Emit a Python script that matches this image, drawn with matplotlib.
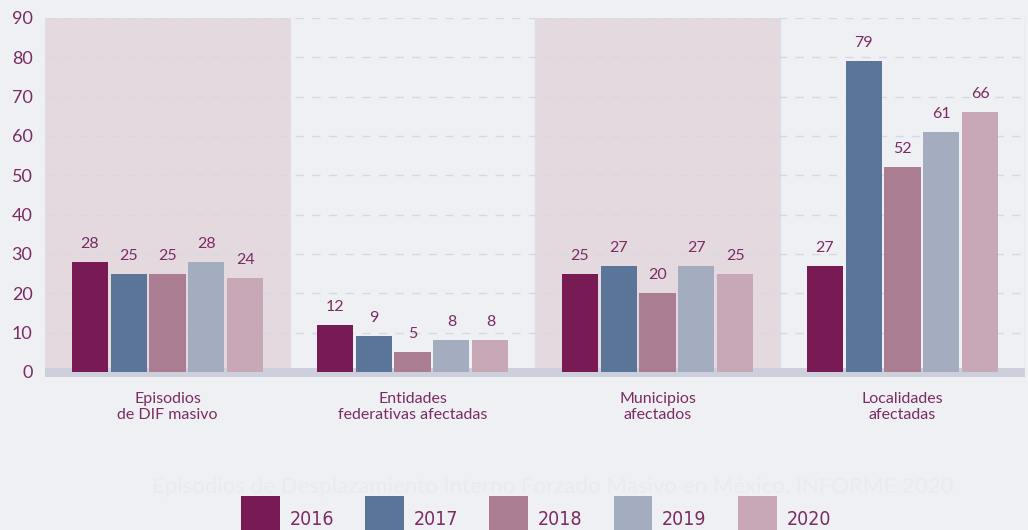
import matplotlib
matplotlib.use("Agg")
import matplotlib.pyplot as plt
from matplotlib.patches import Patch
from matplotlib.font_manager import FontProperties
import numpy as np

categories = ["Episodios\nde DIF masivo", "Entidades\nfederativas afectadas",
              "Municipios\nafectados", "Localidades\nafectadas"]
years = ["2016", "2017", "2018", "2019", "2020"]
v2016 = [28, 12, 25, 27]
v2017 = [25, 9, 27, 79]
v2018 = [25, 5, 20, 52]
v2019 = [28, 8, 27, 61]
v2020 = [24, 8, 25, 66]
series = [v2016, v2017, v2018, v2019, v2020]
colors = ["#781a54", "#5b7599", "#ab7d93", "#a4acc0", "#c8a7b6"]
yticks = [0, 10, 20, 30, 40, 50, 60, 70, 80, 90]

BG = "#eff0f4"
TXT = "#7b2c62"
plt.rcParams['font.family'] = ['Lato', 'DejaVu Sans']

fig = plt.figure(figsize=(10.28, 5.30), dpi=100, facecolor=BG)
ax = fig.add_axes([45/1028, 153/530, 980/1028, 359/530])
ax.set_facecolor(BG)

x = np.arange(len(categories))
bw = 0.147
pitch = 0.159
# shaded panels
for i in [0, 2]:
    ax.axvspan(i - 0.5, i + 0.5, color="#e5d9e0", zorder=0, lw=0)
for i in range(len(categories) + 1):
    ax.axvline(i - 0.5, color="#dcdfe8", lw=1.0, zorder=0.5)

for yv in yticks[1:]:
    ax.axhline(yv, color="#d5d9e3", lw=1.0, ls=(0, (6, 6)), zorder=0.6)

for j, (vals, c) in enumerate(zip(series, colors)):
    off = (j - 2) * pitch
    ax.bar(x + off, vals, width=bw, bottom=0, color=c, zorder=3, lw=0)
    for xi, v in zip(x + off, vals):
        ax.text(xi, v + 2.8, str(v), ha="center", va="bottom", color=TXT,
                fontsize=11.5, zorder=4)

# baseline band
ax.axhspan(-1.3, 1.0, color="#cdd0dc", zorder=2, lw=0)

ax.set_xlim(-0.5, len(categories) - 0.5)
ax.set_ylim(-1.3, 90)
ax.set_yticks(yticks)
ax.set_yticklabels([str(t) for t in yticks], color=TXT, fontsize=13)
ax.tick_params(axis="y", length=0, pad=9)
ax.set_xticks(x)
ax.set_xticklabels(categories, color=TXT, fontsize=11.5, linespacing=1.2)
ax.tick_params(axis="x", length=0, pad=11)
for s in ax.spines.values():
    s.set_visible(False)

# faint watermark
fig.text(0.538, 1 - 487/530, "Episodios de Desplazamiento Interno Forzado Masivo en México. INFORME 2020",
         ha="center", va="center", color="#eaebf0", fontsize=16)

handles = [Patch(facecolor=c, edgecolor="none") for c in colors]
lp = FontProperties(family=["DejaVu Sans"], stretch="condensed", size=14)
leg = fig.legend(handles, years, loc="upper left", bbox_to_anchor=(233/1028, 1 - 488/530),
                 ncol=5, frameon=False, handlelength=2.0, handleheight=3.3,
                 columnspacing=1.6, handletextpad=0.5, borderaxespad=0,
                 prop=lp)
for t in leg.get_texts():
    t.set_color(TXT)

fig.savefig("out.png", dpi=100, facecolor=BG)
